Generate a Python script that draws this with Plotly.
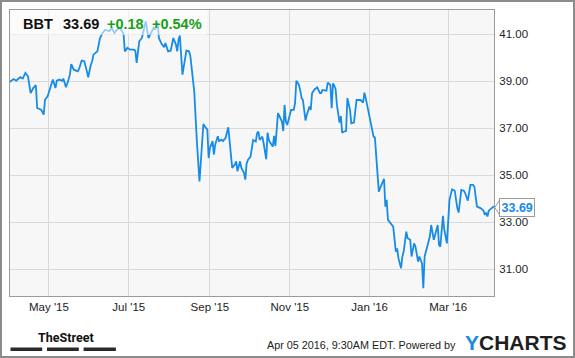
import plotly.graph_objects as go

# ---------------- data ----------------
dates = [
    "2015-04-01", "2015-04-04", "2015-04-06", "2015-04-09", "2015-04-11", "2015-04-13", "2015-04-15",
    "2015-04-16", "2015-04-17", "2015-04-19", "2015-04-21", "2015-04-22", "2015-04-25", "2015-04-27",
    "2015-04-28", "2015-04-30", "2015-05-02", "2015-05-04", "2015-05-06", "2015-05-07", "2015-05-09",
    "2015-05-11", "2015-05-12", "2015-05-14", "2015-05-16", "2015-05-17", "2015-05-18", "2015-05-20",
    "2015-05-23", "2015-05-24", "2015-05-26", "2015-05-28", "2015-05-30", "2015-05-31", "2015-06-02",
    "2015-06-03", "2015-06-04", "2015-06-07", "2015-06-09", "2015-06-11", "2015-06-13", "2015-06-16",
    "2015-06-18", "2015-06-20", "2015-06-22", "2015-06-24", "2015-06-27", "2015-06-28", "2015-06-30",
    "2015-07-02", "2015-07-05", "2015-07-06", "2015-07-07", "2015-07-09", "2015-07-11", "2015-07-12",
    "2015-07-14", "2015-07-16", "2015-07-18", "2015-07-20", "2015-07-21", "2015-07-23", "2015-07-24",
    "2015-07-26", "2015-07-28", "2015-07-29", "2015-07-31", "2015-08-02", "2015-08-03", "2015-08-04",
    "2015-08-06", "2015-08-07", "2015-08-08", "2015-08-09", "2015-08-11", "2015-08-14", "2015-08-16",
    "2015-08-17", "2015-08-20", "2015-08-21", "2015-08-22", "2015-08-24", "2015-08-25", "2015-08-27",
    "2015-08-28", "2015-08-30", "2015-08-31", "2015-09-01", "2015-09-03", "2015-09-04", "2015-09-05",
    "2015-09-07", "2015-09-08", "2015-09-10", "2015-09-11", "2015-09-13", "2015-09-15", "2015-09-16",
    "2015-09-18", "2015-09-20", "2015-09-21", "2015-09-22", "2015-09-24", "2015-09-25", "2015-09-27",
    "2015-09-28", "2015-09-29", "2015-09-30", "2015-10-02", "2015-10-03", "2015-10-04", "2015-10-06",
    "2015-10-07", "2015-10-08", "2015-10-09", "2015-10-10", "2015-10-11", "2015-10-12", "2015-10-14",
    "2015-10-15", "2015-10-16", "2015-10-17", "2015-10-19", "2015-10-20", "2015-10-21", "2015-10-23",
    "2015-10-25", "2015-10-26", "2015-10-27", "2015-10-28", "2015-10-29", "2015-10-30", "2015-11-01",
    "2015-11-02", "2015-11-04", "2015-11-05", "2015-11-06", "2015-11-08", "2015-11-09", "2015-11-10",
    "2015-11-11", "2015-11-13", "2015-11-14", "2015-11-16", "2015-11-17", "2015-11-18", "2015-11-20",
    "2015-11-22", "2015-11-24", "2015-11-25", "2015-11-26", "2015-11-28", "2015-11-29", "2015-11-30",
    "2015-12-02", "2015-12-03", "2015-12-04", "2015-12-05", "2015-12-06", "2015-12-07", "2015-12-09",
    "2015-12-10", "2015-12-11", "2015-12-12", "2015-12-14", "2015-12-15", "2015-12-17", "2015-12-18",
    "2015-12-20", "2015-12-22", "2015-12-25", "2015-12-27", "2015-12-28", "2015-12-29", "2015-12-31",
    "2016-01-02", "2016-01-04", "2016-01-05", "2016-01-06", "2016-01-08", "2016-01-09", "2016-01-12",
    "2016-01-13", "2016-01-14", "2016-01-15", "2016-01-17", "2016-01-19", "2016-01-21", "2016-01-22",
    "2016-01-23", "2016-01-25", "2016-01-26", "2016-01-27", "2016-01-29", "2016-01-30", "2016-02-01",
    "2016-02-02", "2016-02-04", "2016-02-05", "2016-02-07", "2016-02-08", "2016-02-10", "2016-02-11",
    "2016-02-12", "2016-02-14", "2016-02-16", "2016-02-17", "2016-02-19", "2016-02-20", "2016-02-22",
    "2016-02-23", "2016-02-24", "2016-02-26", "2016-02-27", "2016-02-29", "2016-03-01", "2016-03-02",
    "2016-03-04", "2016-03-06", "2016-03-08", "2016-03-09", "2016-03-11", "2016-03-13", "2016-03-14",
    "2016-03-16", "2016-03-18", "2016-03-20", "2016-03-21", "2016-03-23", "2016-03-26", "2016-03-28",
    "2016-03-29", "2016-03-30", "2016-03-31", "2016-04-01", "2016-04-03", "2016-04-05",
]
prices = [
    38.98, 39.10, 39.03, 39.18, 39.12, 39.36, 39.22,
    38.94, 38.50, 38.72, 38.84, 37.87, 37.80, 37.59,
    38.23, 38.37, 38.72, 39.08, 38.72, 39.03, 39.08,
    39.03, 39.12, 38.75, 39.08, 39.29, 39.74, 39.50,
    39.43, 39.53, 39.89, 39.86, 39.43, 39.18, 39.71,
    39.86, 40.14, 40.28, 40.85, 41.06, 41.20, 41.14,
    41.28, 41.06, 41.20, 41.30, 41.02, 40.28, 40.43,
    40.35, 40.35, 40.31, 39.79, 40.71, 40.85, 41.14,
    41.56, 40.85, 41.06, 41.28, 41.20, 41.49, 40.85,
    40.60, 40.46, 40.64, 40.28, 40.31, 40.57, 40.85,
    40.57, 40.28, 40.78, 40.95, 39.29, 40.31, 40.28,
    40.10, 38.58, 37.45, 36.46, 34.75, 35.74, 37.19,
    37.09, 36.95, 35.74, 36.17, 36.46, 35.89, 36.31,
    36.67, 36.46, 36.52, 36.46, 36.60, 37.05, 36.46,
    35.32, 35.46, 35.60, 35.18, 35.60, 35.32, 35.11,
    34.82, 35.50, 35.66, 35.80, 36.16, 36.51, 36.44,
    36.80, 36.86, 36.51, 36.58, 36.65, 36.37, 35.69,
    36.82, 36.51, 36.40, 36.23, 36.68, 36.26, 37.65,
    37.43, 37.29, 36.89, 38.00, 37.29, 37.15, 37.57,
    37.79, 37.79, 38.07, 39.03, 38.85, 38.61, 38.29,
    38.21, 37.34, 37.57, 37.93, 37.79, 38.50, 38.67,
    38.75, 38.50, 38.50, 38.64, 38.64, 38.61, 38.95,
    38.85, 37.86, 38.92, 38.81, 38.67, 38.00, 37.25,
    37.53, 36.82, 36.86, 36.89, 38.29, 37.79, 37.22,
    37.25, 38.21, 38.21, 38.10, 38.52, 38.29, 37.71,
    37.22, 36.65, 36.62, 35.80, 34.31, 34.46, 34.85,
    33.67, 33.96, 33.11, 32.97, 32.82, 31.76, 31.90,
    31.48, 31.05, 31.55, 31.76, 32.61, 32.33, 32.26,
    31.55, 32.11, 31.97, 31.33, 31.55, 31.26, 30.20,
    31.55, 31.97, 32.40, 32.89, 32.26, 32.47, 32.89,
    32.04, 31.97, 33.28, 32.70, 32.11, 33.40, 33.96,
    34.41, 34.35, 33.60, 33.42, 34.38, 34.35, 34.24,
    33.93, 34.60, 34.60, 34.52, 33.67, 33.60, 33.50,
    33.32, 33.42, 33.25, 33.50, 33.60, 33.69,
]
ticker = "BBT"
last_price = 33.69
change_abs = "+0.18"
change_pct = "+0.54%"
y_ticks = [31, 33, 35, 37, 39, 41]
footer_time = "Apr 05 2016, 9:30AM EDT."

# ---------------- styling ----------------
W, H = 575, 358
ML, MR, MT, MB = 10, 81, 10, 62
PW, PH = W - ML - MR, H - MT - MB
BLUE = "#168ce8"
GREEN = "#17a017"
FONT = "Liberation Sans, Arial, sans-serif"


def px(x):
    return (x - ML) / PW


def py(y):
    return (MT + PH - y) / PH


fig = go.Figure(
    go.Scatter(x=dates, y=prices, mode="lines",
               line=dict(color=BLUE, width=1.8), hoverinfo="skip")
)

fig.update_layout(
    width=W, height=H,
    margin=dict(l=ML, r=MR, t=MT, b=MB),
    paper_bgcolor="white", plot_bgcolor="#f7f7f7",
    showlegend=False,
    font=dict(family=FONT, color="#222"),
    xaxis=dict(
        type="date", range=["2015-04-01 06:00", "2016-04-05"],
        tick0="2015-05-01", dtick="M2", tickformat="%b '%y",
        showgrid=True, gridcolor="#d9d9d9", gridwidth=1,
        showline=True, mirror=True, linecolor="#9a9a9a", linewidth=1,
        ticks="", zeroline=False, tickfont=dict(size=11.5, color="#222"),
    ),
    yaxis=dict(
        side="right", range=[29.87, 42.04], tickvals=y_ticks,
        tickformat=".2f",
        showgrid=True, gridcolor="#d9d9d9", gridwidth=1,
        showline=True, mirror=True, linecolor="#9a9a9a", linewidth=1,
        ticks="", zeroline=False, ticklabelstandoff=2,
        tickfont=dict(size=11.5, color="#222"),
    ),
)

shapes = []
# translucent header box
shapes.append(dict(type="rect", xref="paper", yref="paper",
                   x0=px(ML), x1=px(207), y0=py(35), y1=py(MT),
                   fillcolor="rgba(255,255,255,0.55)", line=dict(width=0), layer="above"))
# price pointer chevron
shapes.append(dict(type="path", xref="paper", yref="paper",
                   path=f"M {px(500)},{py(199.5)} L {px(494.8)},{py(207.5)} L {px(500)},{py(215.5)} Z",
                   fillcolor="white", line=dict(color="#9a9a9a", width=1), layer="above"))
# TheStreet bars
for x0, x1 in [(10.5, 42.2), (47, 78.8), (83.6, 115.9)]:
    shapes.append(dict(type="rect", xref="paper", yref="paper",
                       x0=px(x0), x1=px(x1), y0=py(351), y1=py(347.5),
                       fillcolor="#2a2a2a", line=dict(width=0), layer="above"))
# outer frame
shapes.append(dict(type="rect", xref="paper", yref="paper",
                   x0=px(1), x1=px(W - 1), y0=py(H - 1), y1=py(1),
                   fillcolor="rgba(0,0,0,0)", line=dict(color="#8c8c8c", width=2), layer="above"))
fig.update_layout(shapes=shapes)

ann = []
hy = py(24)
for txt, xl, col in [(f"<b>{ticker}</b>", 21, "#111"), (f"<b>{last_price:.2f}</b>", 60.5, "#111"),
                     (f"<b>{change_abs}</b>", 104.5, GREEN), (f"<b>{change_pct}</b>", 149.5, GREEN)]:
    ann.append(dict(xref="paper", yref="paper", x=px(xl), y=hy, xanchor="left", yanchor="middle",
                    text=txt, showarrow=False, font=dict(size=14.5, color=col, family=FONT)))
# last price label
ann.append(dict(xref="paper", yref="y", x=px(499), y=last_price, yshift=-1,
                xanchor="left", yanchor="middle", text=f"<b>{last_price:.2f}</b>",
                showarrow=False, bgcolor="white", bordercolor="#9a9a9a", borderwidth=1, borderpad=1.5,
                font=dict(size=12.5, color=BLUE, family=FONT)))
# footer
ann.append(dict(xref="paper", yref="paper", x=px(36), y=py(337), xanchor="left", yanchor="middle",
                text="<b>TheStreet</b>", showarrow=False,
                font=dict(size=12.5, color="#111", family="Roboto, sans-serif")))
ann.append(dict(xref="paper", yref="paper", x=px(458), y=py(345), xanchor="right", yanchor="middle",
                text=footer_time + " Powered by", showarrow=False,
                font=dict(size=10.8, color="#222", family=FONT)))
ann.append(dict(xref="paper", yref="paper", x=px(463), y=py(342), xanchor="left", yanchor="middle",
                text=f"<b><span style='color:{BLUE}'>Y</span>CHARTS</b>", showarrow=False,
                font=dict(size=21, color="#1f1f1f", family=FONT)))
fig.update_layout(annotations=ann)

fig.write_html("out.html")
